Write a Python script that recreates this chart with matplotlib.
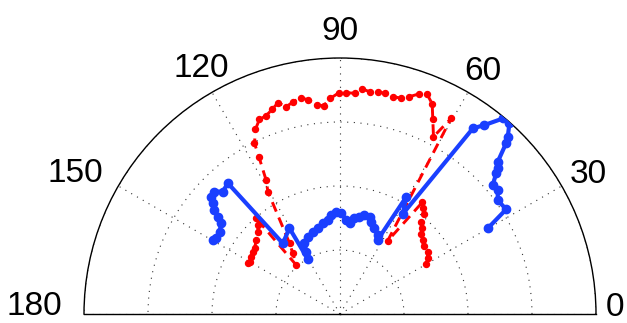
import numpy as np
import matplotlib
matplotlib.use("Agg")
import matplotlib.pyplot as plt

plt.rcParams['font.family'] = ['Liberation Sans', 'DejaVu Sans']

# red dashed curve: angle (deg) and radius
red_theta = [30.0, 32.6, 35.3, 39.2, 41.9, 44.5, 46.2, 48.5, 49.8, 51.8, 53.6,
             56.9, 60.4, 62.2, 64.5, 66.3, 68.4, 70.3, 72.4, 74.2, 76.4,
             78.4, 80.3, 82.2, 84.4, 86.2, 88.4, 90.3, 92.6, 94.5, 96.3,
             98.4, 100.3, 102.5, 104.5, 106.4, 108.3, 110.6, 112.5, 114.6,
             116.6, 117.3, 118.9, 120.5, 125.5, 127.9, 131.8,
             131.2, 132.7, 134.9, 138.5, 142.4, 144.5, 147.2, 150.0, 151.0]
red_r = [0.390, 0.406, 0.419, 0.421, 0.433, 0.446, 0.465, 0.480, 0.511, 0.527, 0.543,
         0.340, 0.879, 0.783, 0.842, 0.896, 0.924, 0.913, 0.890, 0.876, 0.874,
         0.880, 0.880, 0.875, 0.884, 0.864, 0.865, 0.864, 0.843, 0.816, 0.821,
         0.845, 0.859, 0.848, 0.837, 0.860, 0.842, 0.826, 0.823, 0.793,
         0.746, 0.690, 0.597, 0.555, 0.339, 0.300, 0.257,
         0.497, 0.473, 0.454, 0.437, 0.421, 0.419, 0.413, 0.408, 0.412]

# blue solid curve
blue_theta = [30.1, 32.2, 35.8, 38.2, 40.2, 42.0, 42.7, 44.0, 45.8, 46.6, 48.4, 50.2,
              52.6, 54.4,
              57.9, 60.5, 63.1, 64.4, 68.1, 71.3, 73.1, 76.1, 78.7, 81.4, 84.0,
              86.2, 89.3, 92.1, 95.1, 97.4, 100.7, 104.5, 108.3, 112.6, 116.7,
              118.5, 120.4, 120.5, 129.0,
              130.6, 133.8, 135.7, 137.7, 139.0, 140.4, 141.5, 142.7, 145.6, 148.5, 149.8]
blue_r = [0.667, 0.767, 0.760, 0.784, 0.781, 0.821, 0.839, 0.857, 0.931, 0.954, 0.997, 0.994,
          0.929, 0.892,
          0.461, 0.525, 0.324, 0.342, 0.361, 0.381, 0.397, 0.398, 0.388, 0.378, 0.356,
          0.368, 0.393, 0.400, 0.388, 0.370, 0.361, 0.346, 0.339, 0.327, 0.309,
          0.277, 0.249, 0.389, 0.355,
          0.673, 0.662, 0.685, 0.680, 0.658, 0.637, 0.610, 0.584, 0.570, 0.567, 0.575]

tick_angles = [0, 30, 60, 90, 120, 150, 180]
tick_labels = ['0', '30', '60', '90', '120', '150', '180']
ring_r = [0.25, 0.5, 0.75, 1.0]

fig = plt.figure(figsize=(6.27, 3.23), dpi=100)
# polar half disc sits in the middle of a square box, so the box hangs below the figure
ax = fig.add_axes([84 / 627, -119 / 323, 512 / 627, 512 / 323], projection='polar')
ax.set_thetamin(0)
ax.set_thetamax(180)
ax.set_rlim(0, 1)

ax.set_xticks(np.deg2rad(tick_angles))
ax.set_xticklabels([])
ax.set_yticks(ring_r)
ax.set_yticklabels([])
ax.tick_params(length=0)
ax.grid(True, color='#333333', linewidth=0.8, linestyle=(0, (1, 5)))
for sp in ax.spines.values():
    sp.set_color('black')
    sp.set_linewidth(1.0)

ax.plot(np.deg2rad(red_theta), red_r, color='#ff0000', linestyle=(0, (3.5, 2.2)),
        linewidth=2.1, marker='o', markersize=4.3, zorder=3)
ax.plot(np.deg2rad(blue_theta), blue_r, color='#1a3fff', linestyle='-',
        linewidth=3, marker='o', markersize=6, zorder=4)

# angle labels outside the half circle
lab_pos = {0: (1.5, 1.04, 'left'), 30: (29.3, 1.11, 'center'), 60: (59.6, 1.10, 'center'),
           90: (90, 1.105, 'center'), 120: (119.5, 1.10, 'center'),
           150: (152, 1.17, 'center'), 180: (178.5, 1.085, 'right')}
for a, lab in zip(tick_angles, tick_labels):
    th, rr, ha = lab_pos[a]
    ax.text(np.deg2rad(th), rr, lab, ha=ha, va='center', fontsize=24)

fig.savefig('out.png', dpi=100)
